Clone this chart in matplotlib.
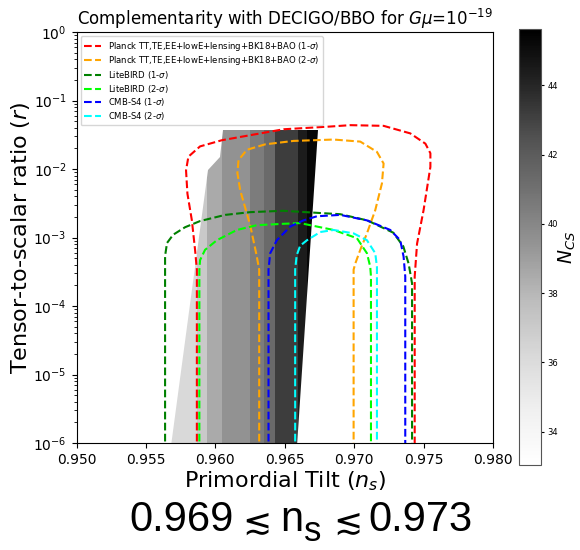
import numpy as np
import matplotlib
matplotlib.use("Agg")
import matplotlib.pyplot as plt
from matplotlib.patches import Polygon
from matplotlib.colors import Normalize
import matplotlib.cm as cm

# ---------------- data ----------------
ncs_min, ncs_max = 33.04, 45.62
cbar_ticks = [34, 36, 38, 40, 42, 44]

# shaded N_CS region: vertical bands in n_s, clipped by an outline
band_edges_ns = [0.9560, 0.95867, 0.95943, 0.96050, 0.96251, 0.96347, 0.96431, 0.96593, 0.96662, 0.9680]
band_ncs = [36.2, 37.1, 38.5, 39.5, 40.5, 41.3, 43.2, 44.4, 45.3]
region_ns = [0.95678, 0.95946, 0.96035, 0.96054, 0.96739, 0.96585]
region_logr = [-6.05, -2.015, -1.820, -1.431, -1.431, -6.05]

# CMB contours (n_s, log10 r)
planck1_ns = [0.95867, 0.95867, 0.95854, 0.95831, 0.95799, 0.95789, 0.95806, 0.95890, 0.96047, 0.96491,
              0.96828, 0.96972, 0.97212, 0.97404, 0.97513, 0.97549, 0.97549, 0.97500, 0.97453, 0.97436, 0.97436]
planck1_logr = [-6.3, -3.47, -3.18, -2.75, -2.36, -2.02, -1.82, -1.67, -1.58, -1.42,
                -1.38, -1.36, -1.37, -1.48, -1.63, -1.77, -1.97, -2.60, -3.09, -3.57, -6.3]

planck2_ns = [0.96316, 0.96316, 0.96294, 0.96251, 0.96227, 0.96179, 0.96159, 0.96167, 0.96227, 0.96359, 0.96563,
              0.96852, 0.97044, 0.97164, 0.97212, 0.97200, 0.97152, 0.97092, 0.97044, 0.97008, 0.96996, 0.96996]
planck2_logr = [-6.3, -3.47, -3.23, -2.82, -2.65, -2.31, -2.06, -1.87, -1.72, -1.64, -1.59,
                -1.57, -1.60, -1.75, -1.92, -2.21, -2.60, -2.94, -3.18, -3.38, -3.47, -6.3]

litebird1_ns = [0.95638, 0.95638, 0.95652, 0.95696, 0.95782, 0.95890, 0.96071, 0.96251, 0.96489,
                0.96734, 0.96900, 0.97094, 0.97282, 0.97354, 0.97392, 0.97417, 0.97417]
litebird1_logr = [-6.3, -3.27, -3.08, -2.96, -2.85, -2.76, -2.67, -2.63, -2.61,
                  -2.64, -2.66, -2.75, -2.93, -3.13, -3.38, -3.67, -6.3]

litebird2_ns = [0.95885, 0.95885, 0.95890, 0.95926, 0.96011, 0.96155, 0.96299, 0.96491, 0.96611,
                0.96852, 0.97020, 0.97092, 0.97116, 0.97121, 0.97121]
litebird2_logr = [-6.3, -3.47, -3.33, -3.18, -3.04, -2.89, -2.82, -2.80, -2.79,
                  -2.89, -3.01, -3.23, -3.43, -3.57, -6.3]

s4_1_ns = [0.96383, 0.96383, 0.96395, 0.96443, 0.96539, 0.96635, 0.96732, 0.96900, 0.97092,
           0.97260, 0.97332, 0.97356, 0.97368, 0.97368]
s4_1_logr = [-6.3, -3.47, -3.23, -3.04, -2.84, -2.75, -2.69, -2.67, -2.75,
             -2.89, -3.04, -3.28, -3.57, -6.3]

s4_2_ns = [0.96575, 0.96575, 0.96586, 0.96611, 0.96660, 0.96756, 0.96852, 0.96996, 0.97092,
           0.97152, 0.97164, 0.97164]
s4_2_logr = [-6.3, -3.47, -3.26, -3.12, -3.04, -2.92, -2.89, -2.94, -3.04, -3.23, -3.43, -6.3]

labels = [r"Planck TT,TE,EE+lowE+lensing+BK18+BAO (1-$\sigma$)",
          r"Planck TT,TE,EE+lowE+lensing+BK18+BAO (2-$\sigma$)",
          r"LiteBIRD (1-$\sigma$)", r"LiteBIRD (2-$\sigma$)",
          r"CMB-S4 (1-$\sigma$)", r"CMB-S4 (2-$\sigma$)"]
colors = ["red", "orange", "green", "lime", "blue", "cyan"]
curves = [(planck1_ns, planck1_logr), (planck2_ns, planck2_logr),
          (litebird1_ns, litebird1_logr), (litebird2_ns, litebird2_logr),
          (s4_1_ns, s4_1_logr), (s4_2_ns, s4_2_logr)]

xticks = [0.950, 0.955, 0.960, 0.965, 0.970, 0.975, 0.980]
ns_low, ns_high = "0.969", "0.973"

# ---------------- figure ----------------
W, H = 580, 550
fig = plt.figure(figsize=(W / 100, H / 100), dpi=100)
ax = fig.add_axes([76.5 / W, 1 - 443 / H, (493 - 76.5) / W, (443 - 32) / H])
cax = fig.add_axes([519 / W, 1 - 465 / H, 22 / W, (465 - 29.3) / H])

norm = Normalize(vmin=ncs_min, vmax=ncs_max)
cmap = "Greys"

mesh = ax.pcolormesh(band_edges_ns, [10 ** -6.1, 10 ** -1.3], np.array([band_ncs]),
                     cmap=cmap, norm=norm, shading="flat", zorder=1)
poly = Polygon(np.column_stack([region_ns, 10 ** np.array(region_logr)]), closed=True,
               facecolor="none", edgecolor="none", transform=ax.transData)
ax.add_patch(poly)
mesh.set_clip_path(poly)

for (ns, lr), c, lab in zip(curves, colors, labels):
    ax.plot(ns, 10 ** np.array(lr), ls="--", color=c, lw=1.5, label=lab, zorder=3)

ax.set_yscale("log")
ax.set_xlim(0.950, 0.980)
ax.set_ylim(1e-6, 1)
ax.set_xticks(xticks)
ax.set_xticklabels(["%.3f" % t for t in xticks])
ax.tick_params(labelsize=10)
ax.set_xlabel(r"Primordial Tilt ($n_s$)", fontsize=16, labelpad=2)
ax.set_ylabel(r"Tensor-to-scalar ratio ($r$)", fontsize=16, labelpad=1)
ax.set_title(r"Complementarity with DECIGO/BBO for $G\mu$=$10^{-19}$", fontsize=12, pad=5)
ax.legend(loc="upper left", fontsize=6.1, borderaxespad=0.5, labelspacing=0.2,
          borderpad=0.4)

cb = fig.colorbar(cm.ScalarMappable(norm=norm, cmap=cmap), cax=cax, ticks=cbar_ticks)
cb.ax.tick_params(labelsize=6, length=2.5, pad=2)
cb.set_label(r"$N_{CS}$", fontsize=13.5, labelpad=-1)
cb.outline.set_edgecolor("#555555")

# bottom annotation, built from pieces (pixel positions)
def ftext(xp, yp, s, size, fam):
    fig.text(xp / W, 1 - yp / H, s, fontsize=size, family=fam, ha="left", va="baseline")

ftext(129, 531, ns_low, 30, "Liberation Sans")
ftext(242, 533, "\u2272", 25, "DejaVu Sans")
ftext(280, 531, "n", 30, "Liberation Sans")
ftext(304, 541, "s", 25, "Liberation Sans")
ftext(333, 533, "\u2272", 25, "DejaVu Sans")
ftext(368, 531, ns_high, 30, "Liberation Sans")

fig.savefig("out.png", dpi=100)
